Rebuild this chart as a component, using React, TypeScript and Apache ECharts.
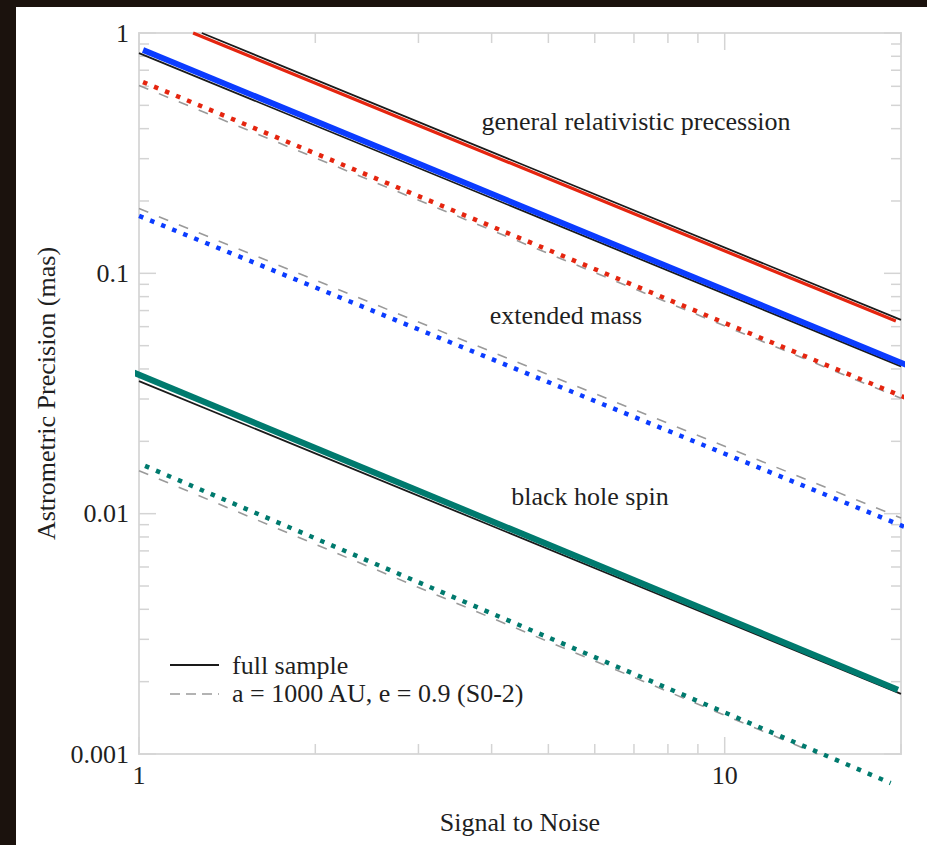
import React, { useEffect, useRef } from "react";
import * as echarts from "echarts";

// Astrometric precision vs. signal-to-noise, three physical effects.
// Each curve: [signal to noise, precision in mas]
const precessionFull = [[1.28, 1.0], [20, 0.064]];
const precessionSolid = [[1.237, 1.0], [19.6, 0.0633]];
const precessionS02 = [[1, 0.605], [20, 0.0302]];
const precessionDotted = [[1.016, 0.625], [20.8, 0.0297]];

const massFull = [[1, 0.825], [20, 0.041]];
const massSolid = [[1.016, 0.85], [20.96, 0.0405]];
const massS02 = [[1, 0.186], [20, 0.0096]];
const massDotted = [[0.958, 0.181], [20.8, 0.0086]];

const spinFull = [[1, 0.0356], [20, 0.00178]];
const spinSolid = [[0.958, 0.0395], [19.76, 0.00185]];
const spinS02 = [[1, 0.0151], [14.4, 0.001]];
const spinDotted = [[1.024, 0.0158], [19.2, 0.000757]];

const xTickLabels: Record<string, string> = { "1": "1", "10": "10" };
const yTickLabels: Record<string, string> = { "1": "1", "0.1": "0.1", "0.01": "0.01", "0.001": "0.001" };

const xMajorTicks = [1, 10];
const xMinorTicks = [2, 3, 4, 5, 6, 7, 8, 9, 20];
const yMajorTicks = [0.001, 0.01, 0.1, 1];
const yDecades = [0.001, 0.01, 0.1];
const minorMultipliers = [2, 3, 4, 5, 6, 7, 8, 9];

const FONT = '"Liberation Serif", "Times New Roman", serif';
const FS = 26;
const TEXT = "#1f1f1f";
const RED = "#e5250f";
const BLUE = "#0b3cff";
const TEAL = "#007a6e";
const BLACK = "#1a1a1a";
const GRAY = "#9a9a9a";
const TICK = "#d4d4d4";

const dotted = [4.5, 7.4];
const dashed = [10, 11.5];

function labelFor(map: Record<string, string>, v: number) {
  const lg = Math.log10(v);
  if (Math.abs(lg - Math.round(lg)) > 1e-6) return "";
  const key = String(Number(Math.pow(10, Math.round(lg)).toPrecision(6)));
  return map[key] ?? "";
}

export default function App() {
  const ref = useRef<HTMLDivElement>(null);

  useEffect(() => {
    if (!ref.current) return;
    const chart = echarts.init(ref.current, undefined, { renderer: "svg" });

    const xTickData = [
      ...xMajorTicks.map((v) => [v, 1, 1]),
      ...xMinorTicks.map((v) => [v, 1, 0]),
    ];
    const yTickData: number[][] = yMajorTicks.map((v) => [1, v, 1]);
    yDecades.forEach((d) =>
      minorMultipliers.forEach((m) => yTickData.push([1, Number((d * m).toPrecision(6)), 0]))
    );

    const line = (
      data: number[][],
      color: string,
      width: number,
      type: any,
      clip: boolean,
      z: number
    ) => ({
      type: "line",
      data,
      symbol: "none",
      clip,
      z,
      silent: true,
      lineStyle: { color, width, type, cap: "butt" },
    });

    const textEl = (text: string, x: number, y: number, align: string) => ({
      type: "text",
      x,
      y,
      z: 100,
      style: { text, font: `${FS}px ${FONT}`, fill: TEXT, align, verticalAlign: "middle" },
    });

    chart.setOption({
      animation: false,
      backgroundColor: "#ffffff",
      grid: {
        left: 139,
        top: 33,
        right: 26,
        bottom: 91,
        show: true,
        borderColor: "#dadada",
        borderWidth: 2,
        backgroundColor: "#ffffff",
        containLabel: false,
        outerBoundsMode: "none",
      },
      xAxis: {
        type: "log",
        logBase: 10,
        min: 1,
        max: 20,
        name: "Signal to Noise",
        nameLocation: "middle",
        nameGap: 55,
        nameTextStyle: { fontFamily: FONT, fontSize: FS, color: TEXT },
        axisLine: { show: false },
        axisTick: { show: false },
        splitLine: { show: false },
        minorTick: { show: false },
        axisLabel: {
          fontFamily: FONT,
          fontSize: FS,
          color: TEXT,
          margin: 8,
          formatter: (v: number) => labelFor(xTickLabels, v),
        },
      },
      yAxis: {
        type: "log",
        logBase: 10,
        min: 0.001,
        max: 1,
        name: "Astrometric Precision (mas)",
        nameLocation: "middle",
        nameGap: 72,
        nameTextStyle: { fontFamily: FONT, fontSize: FS, color: TEXT },
        axisLine: { show: false },
        axisTick: { show: false },
        splitLine: { show: false },
        minorTick: { show: false },
        axisLabel: {
          fontFamily: FONT,
          fontSize: FS,
          color: TEXT,
          margin: 10,
          formatter: (v: number) => labelFor(yTickLabels, v),
        },
      },
      graphic: [
        { type: "rect", shape: { x: 0, y: 0, width: 927, height: 7 }, style: { fill: "#1b120d" } },
        { type: "rect", shape: { x: 0, y: 0, width: 16, height: 845 }, style: { fill: "#1b120d" } },
        textEl("general relativistic precession", 636, 121, "center"),
        textEl("extended mass", 566, 315, "center"),
        textEl("black hole spin", 590, 496, "center"),
        {
          type: "line",
          z: 100,
          shape: { x1: 170, y1: 665, x2: 219, y2: 665 },
          style: { stroke: BLACK, lineWidth: 1.8 },
        },
        {
          type: "line",
          z: 100,
          shape: { x1: 170, y1: 694, x2: 219, y2: 694 },
          style: { stroke: GRAY, lineWidth: 1.6, lineDash: [10, 6] },
        },
        textEl("full sample", 232, 665, "left"),
        textEl("a = 1000 AU, e = 0.9 (S0-2)", 232, 693, "left"),
      ],
      series: [
        {
          type: "custom",
          silent: true,
          z: 1,
          encode: { x: 0, y: 1 },
          data: xTickData,
          renderItem: (params: any, api: any) => {
            const v = api.value(0);
            const len = api.value(2) ? 17 : 10;
            const p = api.coord([v, 1]);
            const cs = params.coordSys;
            const bottom = cs.y + cs.height;
            return {
              type: "group",
              children: [
                { type: "line", shape: { x1: p[0], y1: bottom, x2: p[0], y2: bottom - len }, style: { stroke: TICK, lineWidth: 1.5 } },
                { type: "line", shape: { x1: p[0], y1: cs.y, x2: p[0], y2: cs.y + len }, style: { stroke: TICK, lineWidth: 1.5 } },
              ],
            };
          },
        },
        {
          type: "custom",
          silent: true,
          z: 1,
          encode: { x: 0, y: 1 },
          data: yTickData,
          renderItem: (params: any, api: any) => {
            const v = api.value(1);
            const len = api.value(2) ? 17 : 10;
            const p = api.coord([1, v]);
            const cs = params.coordSys;
            const right = cs.x + cs.width;
            return {
              type: "group",
              children: [
                { type: "line", shape: { x1: cs.x, y1: p[1], x2: cs.x + len, y2: p[1] }, style: { stroke: TICK, lineWidth: 1.5 } },
                { type: "line", shape: { x1: right, y1: p[1], x2: right - len, y2: p[1] }, style: { stroke: TICK, lineWidth: 1.5 } },
              ],
            };
          },
        },
        // full sample and S0-2 reference curves
        line(precessionFull, BLACK, 1.8, "solid", true, 2),
        line(precessionS02, GRAY, 1.6, dashed, true, 2),
        line(massFull, BLACK, 1.8, "solid", true, 2),
        line(massS02, GRAY, 1.6, dashed, true, 2),
        line(spinFull, BLACK, 1.8, "solid", true, 2),
        line(spinS02, GRAY, 1.6, dashed, true, 2),
        // colored curves
        line(precessionSolid, RED, 3.2, "solid", false, 3),
        line(precessionDotted, RED, 4.5, dotted, false, 3),
        line(massSolid, BLUE, 5.8, "solid", false, 3),
        line(massDotted, BLUE, 4.5, dotted, false, 3),
        line(spinSolid, TEAL, 6.2, "solid", false, 3),
        line(spinDotted, TEAL, 4.5, dotted, false, 3),
      ],
    });

    return () => chart.dispose();
  }, []);

  return (
    <div
      ref={ref}
      style={{ position: "fixed", left: 0, top: 0, width: 927, height: 845 }}
    />
  );
}
